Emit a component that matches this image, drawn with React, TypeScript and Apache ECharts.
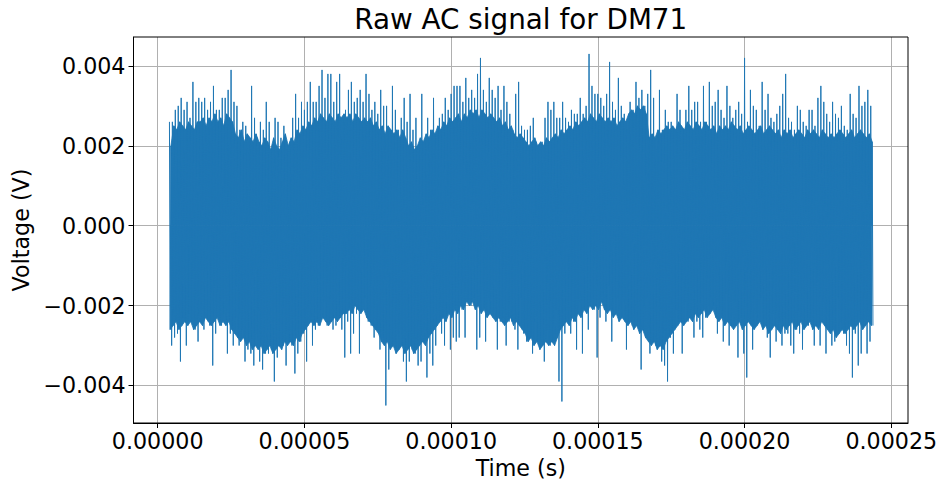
import React, { useEffect, useRef } from "react";
import * as echarts from "echarts";

const TITLE = "Raw AC signal for DM71";
const X_LABEL = "Time (s)";
const Y_LABEL = "Voltage (V)";
const X_TICKS = [0, 0.00005, 0.0001, 0.00015, 0.0002, 0.00025];
const Y_TICKS = [-0.004, -0.002, 0, 0.002, 0.004];
const X_MIN = -0.00000825;
const X_MAX = 0.0002557;
const Y_MIN = -0.004939;
const Y_MAX = 0.004724;

// Signal, one window per microsecond starting at 4 µs.
// Each window holds: the highest peak, a secondary low, a secondary high, the lowest peak.
const SAMPLE_START = 0.000004; // s
const SAMPLE_STEP = 0.000001; // s
const PEAK_HIGH = [
  0.0026, 0.0026, 0.0029, 0.0030, 0.0032, 0.0029, 0.0031, 0.0027, 0.0036, 0.0031,
  0.0032, 0.0031, 0.0032, 0.0029, 0.0031, 0.0035, 0.0029, 0.0029, 0.0032, 0.0032,
  0.0034, 0.0039, 0.0031, 0.0030, 0.0024, 0.0026, 0.0025, 0.0021, 0.0035, 0.0027,
  0.0022, 0.0026, 0.0024, 0.0031, 0.0026, 0.0019, 0.0027, 0.0026, 0.0022, 0.0025,
  0.0019, 0.0021, 0.0027, 0.0033, 0.0027, 0.0031, 0.0029, 0.0031, 0.0036, 0.0031,
  0.0031, 0.0035, 0.0039, 0.0032, 0.0038, 0.0038, 0.0031, 0.0036, 0.0038, 0.0027,
  0.0029, 0.0034, 0.0036, 0.0031, 0.0032, 0.0034, 0.0031, 0.0038, 0.0033, 0.0029,
  0.0031, 0.0028, 0.0034, 0.0030, 0.0030, 0.0024, 0.0035, 0.0029, 0.0024, 0.0027,
  0.0032, 0.0026, 0.0033, 0.0024, 0.0027, 0.0019, 0.0033, 0.0021, 0.0027, 0.0024,
  0.0032, 0.0023, 0.0027, 0.0028, 0.0032, 0.0029, 0.0033, 0.0035, 0.0035, 0.0035,
  0.0031, 0.0037, 0.0032, 0.0034, 0.0032, 0.0038, 0.0042, 0.0034, 0.0031, 0.0037,
  0.0034, 0.0032, 0.0035, 0.0029, 0.0035, 0.0031, 0.0028, 0.0024, 0.0033, 0.0036,
  0.0025, 0.0024, 0.0024, 0.0025, 0.0027, 0.0021, 0.0020, 0.0021, 0.0027, 0.0031,
  0.0029, 0.0031, 0.0027, 0.0027, 0.0031, 0.0027, 0.0026, 0.0029, 0.0028, 0.0028,
  0.0032, 0.0028, 0.0030, 0.0043, 0.0035, 0.0033, 0.0033, 0.0032, 0.0030, 0.0033,
  0.0041, 0.0031, 0.0029, 0.0037, 0.0030, 0.0028, 0.0024, 0.0031, 0.0029, 0.0036,
  0.0032, 0.0034, 0.0030, 0.0033, 0.0039, 0.0032, 0.0019, 0.0034, 0.0024, 0.0029,
  0.0026, 0.0026, 0.0024, 0.0033, 0.0029, 0.0024, 0.0029, 0.0035, 0.0029, 0.0031,
  0.0031, 0.0026, 0.0035, 0.0026, 0.0036, 0.0030, 0.0031, 0.0034, 0.0029, 0.0027,
  0.0035, 0.0030, 0.0027, 0.0029, 0.0031, 0.0028, 0.0042, 0.0026, 0.0034, 0.0030,
  0.0029, 0.0025, 0.0036, 0.0029, 0.0033, 0.0027, 0.0026, 0.0028, 0.0030, 0.0033,
  0.0038, 0.0027, 0.0026, 0.0024, 0.0030, 0.0029, 0.0026, 0.0025, 0.0029, 0.0029,
  0.0025, 0.0032, 0.0035, 0.0031, 0.0028, 0.0026, 0.0031, 0.0028, 0.0027, 0.0030,
  0.0025, 0.0024, 0.0033, 0.0028, 0.0027, 0.0035, 0.0030, 0.0031, 0.0034, 0.0030,
];
const SECOND_HIGH = [
  0.0020, 0.0025, 0.0024, 0.0026, 0.0025, 0.0024, 0.0026, 0.0025, 0.0024, 0.0026,
  0.0026, 0.0027, 0.0025, 0.0027, 0.0026, 0.0028, 0.0026, 0.0027, 0.0025, 0.0028,
  0.0027, 0.0026, 0.0023, 0.0022, 0.0024, 0.0021, 0.0023, 0.0022, 0.0021, 0.0023,
  0.0021, 0.0020, 0.0022, 0.0021, 0.0019, 0.0022, 0.0020, 0.0019, 0.0021, 0.0023,
  0.0020, 0.0022, 0.0021, 0.0024, 0.0023, 0.0025, 0.0024, 0.0026, 0.0025, 0.0027,
  0.0026, 0.0028, 0.0027, 0.0026, 0.0028, 0.0027, 0.0026, 0.0028, 0.0027, 0.0028,
  0.0027, 0.0028, 0.0026, 0.0028, 0.0027, 0.0026, 0.0027, 0.0026, 0.0027, 0.0025,
  0.0026, 0.0024, 0.0025, 0.0023, 0.0025, 0.0024, 0.0023, 0.0024, 0.0022, 0.0024,
  0.0022, 0.0020, 0.0021, 0.0019, 0.0020, 0.0022, 0.0021, 0.0023, 0.0022, 0.0024,
  0.0023, 0.0025, 0.0024, 0.0026, 0.0025, 0.0027, 0.0026, 0.0027, 0.0028, 0.0026,
  0.0028, 0.0027, 0.0029, 0.0028, 0.0029, 0.0027, 0.0029, 0.0028, 0.0027, 0.0028,
  0.0027, 0.0026, 0.0027, 0.0025, 0.0026, 0.0024, 0.0025, 0.0023, 0.0022, 0.0023,
  0.0022, 0.0021, 0.0020, 0.0021, 0.0022, 0.0020, 0.0021, 0.0020, 0.0022, 0.0021,
  0.0022, 0.0023, 0.0022, 0.0024, 0.0023, 0.0024, 0.0025, 0.0024, 0.0026, 0.0025,
  0.0026, 0.0027, 0.0026, 0.0028, 0.0027, 0.0026, 0.0028, 0.0027, 0.0026, 0.0027,
  0.0026, 0.0027, 0.0025, 0.0026, 0.0027, 0.0026, 0.0028, 0.0029, 0.0028, 0.0030,
  0.0029, 0.0030, 0.0028, 0.0022, 0.0023, 0.0022, 0.0024, 0.0023, 0.0024, 0.0025,
  0.0024, 0.0025, 0.0024, 0.0026, 0.0025, 0.0024, 0.0026, 0.0025, 0.0024, 0.0026,
  0.0025, 0.0024, 0.0026, 0.0025, 0.0024, 0.0025, 0.0023, 0.0025, 0.0024, 0.0025,
  0.0024, 0.0026, 0.0025, 0.0024, 0.0025, 0.0023, 0.0024, 0.0025, 0.0024, 0.0023,
  0.0024, 0.0025, 0.0023, 0.0024, 0.0025, 0.0024, 0.0023, 0.0024, 0.0022, 0.0024,
  0.0023, 0.0024, 0.0022, 0.0023, 0.0024, 0.0023, 0.0022, 0.0024, 0.0023, 0.0024,
  0.0023, 0.0022, 0.0024, 0.0023, 0.0022, 0.0023, 0.0022, 0.0023, 0.0024, 0.0023,
  0.0022, 0.0023, 0.0024, 0.0022, 0.0023, 0.0024, 0.0023, 0.0022, 0.0023, 0.0021,
];
const SECOND_LOW = [
  -0.0026, -0.0025, -0.0024, -0.0026, -0.0025, -0.0024, -0.0025, -0.0024, -0.0026, -0.0025,
  -0.0024, -0.0025, -0.0023, -0.0024, -0.0025, -0.0024, -0.0023, -0.0025, -0.0024, -0.0025,
  -0.0024, -0.0026, -0.0027, -0.0028, -0.0029, -0.0028, -0.0030, -0.0029, -0.0031, -0.0030,
  -0.0031, -0.0030, -0.0032, -0.0031, -0.0030, -0.0032, -0.0031, -0.0030, -0.0031, -0.0029,
  -0.0030, -0.0029, -0.0030, -0.0028, -0.0029, -0.0027, -0.0026, -0.0025, -0.0024, -0.0025,
  -0.0024, -0.0025, -0.0023, -0.0024, -0.0025, -0.0024, -0.0023, -0.0024, -0.0023, -0.0022,
  -0.0022, -0.0021, -0.0022, -0.0020, -0.0021, -0.0022, -0.0021, -0.0023, -0.0024, -0.0025,
  -0.0026, -0.0027, -0.0029, -0.0030, -0.0029, -0.0031, -0.0030, -0.0032, -0.0031, -0.0030,
  -0.0032, -0.0031, -0.0030, -0.0032, -0.0031, -0.0030, -0.0029, -0.0030, -0.0028, -0.0027,
  -0.0026, -0.0025, -0.0024, -0.0023, -0.0024, -0.0022, -0.0023, -0.0021, -0.0022, -0.0020,
  -0.0021, -0.0019, -0.0020, -0.0019, -0.0021, -0.0020, -0.0022, -0.0021, -0.0023, -0.0022,
  -0.0023, -0.0024, -0.0023, -0.0024, -0.0025, -0.0024, -0.0023, -0.0025, -0.0024, -0.0025,
  -0.0026, -0.0027, -0.0029, -0.0028, -0.0030, -0.0029, -0.0031, -0.0030, -0.0029, -0.0030,
  -0.0029, -0.0030, -0.0028, -0.0026, -0.0025, -0.0024, -0.0025, -0.0023, -0.0024, -0.0022,
  -0.0023, -0.0021, -0.0022, -0.0020, -0.0021, -0.0020, -0.0021, -0.0019, -0.0021, -0.0022,
  -0.0021, -0.0023, -0.0022, -0.0024, -0.0023, -0.0024, -0.0025, -0.0024, -0.0026, -0.0025,
  -0.0027, -0.0026, -0.0028, -0.0029, -0.0030, -0.0029, -0.0031, -0.0030, -0.0031, -0.0029,
  -0.0028, -0.0027, -0.0026, -0.0025, -0.0024, -0.0025, -0.0024, -0.0023, -0.0024, -0.0022,
  -0.0023, -0.0022, -0.0021, -0.0023, -0.0022, -0.0021, -0.0023, -0.0024, -0.0023, -0.0025,
  -0.0024, -0.0025, -0.0026, -0.0025, -0.0024, -0.0026, -0.0025, -0.0024, -0.0025, -0.0026,
  -0.0025, -0.0024, -0.0026, -0.0025, -0.0027, -0.0026, -0.0025, -0.0026, -0.0027, -0.0025,
  -0.0026, -0.0025, -0.0024, -0.0026, -0.0025, -0.0024, -0.0026, -0.0025, -0.0024, -0.0026,
  -0.0025, -0.0026, -0.0024, -0.0025, -0.0026, -0.0027, -0.0026, -0.0028, -0.0027, -0.0026,
  -0.0027, -0.0026, -0.0025, -0.0026, -0.0025, -0.0024, -0.0026, -0.0025, -0.0024, -0.0025,
];
const PEAK_LOW = [
  -0.0030, -0.0028, -0.0027, -0.0034, -0.0023, -0.0030, -0.0022, -0.0024, -0.0026, -0.0029,
  -0.0021, -0.0026, -0.0023, -0.0025, -0.0035, -0.0027, -0.0023, -0.0025, -0.0022, -0.0032,
  -0.0027, -0.0030, -0.0023, -0.0030, -0.0026, -0.0034, -0.0031, -0.0032, -0.0035, -0.0027,
  -0.0034, -0.0036, -0.0032, -0.0032, -0.0031, -0.0039, -0.0033, -0.0029, -0.0030, -0.0035,
  -0.0029, -0.0030, -0.0037, -0.0032, -0.0029, -0.0027, -0.0034, -0.0024, -0.0030, -0.0026,
  -0.0025, -0.0021, -0.0019, -0.0025, -0.0023, -0.0026, -0.0025, -0.0023, -0.0026, -0.0033,
  -0.0024, -0.0032, -0.0027, -0.0022, -0.0032, -0.0021, -0.0018, -0.0024, -0.0025, -0.0028,
  -0.0025, -0.0031, -0.0028, -0.0045, -0.0036, -0.0030, -0.0029, -0.0027, -0.0026, -0.0034,
  -0.0039, -0.0034, -0.0031, -0.0032, -0.0035, -0.0034, -0.0026, -0.0038, -0.0032, -0.0035,
  -0.0030, -0.0024, -0.0027, -0.0030, -0.0022, -0.0031, -0.0028, -0.0029, -0.0028, -0.0021,
  -0.0028, -0.0018, -0.0020, -0.0018, -0.0031, -0.0028, -0.0016, -0.0029, -0.0018, -0.0021,
  -0.0021, -0.0031, -0.0024, -0.0023, -0.0030, -0.0024, -0.0024, -0.0026, -0.0031, -0.0018,
  -0.0027, -0.0029, -0.0028, -0.0032, -0.0024, -0.0029, -0.0029, -0.0034, -0.0026, -0.0030,
  -0.0029, -0.0021, -0.0039, -0.0044, -0.0027, -0.0023, -0.0027, -0.0024, -0.0031, -0.0019,
  -0.0032, -0.0021, -0.0026, -0.0019, -0.0021, -0.0033, -0.0023, -0.0017, -0.0024, -0.0015,
  -0.0029, -0.0018, -0.0018, -0.0021, -0.0019, -0.0031, -0.0024, -0.0025, -0.0024, -0.0024,
  -0.0036, -0.0020, -0.0018, -0.0032, -0.0029, -0.0030, -0.0030, -0.0034, -0.0035, -0.0039,
  -0.0028, -0.0032, -0.0021, -0.0024, -0.0032, -0.0019, -0.0024, -0.0021, -0.0028, -0.0024,
  -0.0026, -0.0028, -0.0023, -0.0020, -0.0021, -0.0020, -0.0027, -0.0021, -0.0029, -0.0017,
  -0.0030, -0.0016, -0.0019, -0.0033, -0.0023, -0.0032, -0.0038, -0.0024, -0.0031, -0.0022,
  -0.0023, -0.0018, -0.0025, -0.0028, -0.0033, -0.0022, -0.0029, -0.0024, -0.0030, -0.0027,
  -0.0027, -0.0030, -0.0032, -0.0026, -0.0027, -0.0031, -0.0024, -0.0025, -0.0024, -0.0030,
  -0.0025, -0.0030, -0.0019, -0.0032, -0.0026, -0.0030, -0.0029, -0.0018, -0.0024, -0.0027,
  -0.0030, -0.0032, -0.0038, -0.0027, -0.0035, -0.0032, -0.0024, -0.0032, -0.0029, -0.0025,
];

const BLUE = "#1f77b4";
const FONT = "DejaVu Sans";

const GRID = { left: 133.5, top: 37, right: 33, bottom: 61 };
const W = 941;
const H = 484;

function fmtY(v: number): string {
  const s = Math.abs(v) < 1e-12 ? "0.000" : v.toFixed(3);
  return s.replace("-", "\u2212");
}

export default function App() {
  const ref = useRef<HTMLDivElement>(null);

  useEffect(() => {
    if (!ref.current) return;
    const chart = echarts.init(ref.current, undefined, { renderer: "svg" });

    // Order within each window: peak high, secondary low, secondary high, peak low.
    const signal: [number, number][] = [];
    const denseHigh: [number, number][] = [];
    const denseLow: [number, number][] = [];
    for (let i = 0; i < PEAK_HIGH.length; i++) {
      const t = SAMPLE_START + i * SAMPLE_STEP;
      signal.push([t, PEAK_HIGH[i]]);
      signal.push([t + 0.25 * SAMPLE_STEP, SECOND_LOW[i]]);
      signal.push([t + 0.5 * SAMPLE_STEP, SECOND_HIGH[i]]);
      signal.push([t + 0.75 * SAMPLE_STEP, PEAK_LOW[i]]);
      // the secondary extremes bound the densely painted body of the trace
      denseLow.push([t + 0.25 * SAMPLE_STEP, SECOND_LOW[i]]);
      denseHigh.push([t + 0.5 * SAMPLE_STEP, SECOND_HIGH[i]]);
    }

    const gw = W - GRID.left - GRID.right;
    const gh = H - GRID.top - GRID.bottom;

    const tickStyle = { color: "#000", width: 1 };
    const labelStyle = { fontFamily: FONT, fontSize: 22.2, color: "#000" };

    const bodySeries = (data: [number, number][]) => ({
      type: "line",
      data,
      showSymbol: false,
      silent: true,
      z: 2,
      itemStyle: { color: BLUE },
      lineStyle: { width: 0.8, color: BLUE },
      areaStyle: { color: BLUE, opacity: 1 },
    });

    chart.setOption({
      animation: false,
      backgroundColor: "#fff",
      grid: { ...GRID, containLabel: false },
      xAxis: {
        type: "value",
        min: X_MIN,
        max: X_MAX,
        axisLine: { show: true, onZero: false, lineStyle: tickStyle },
        axisTick: { show: true, length: 5, lineStyle: tickStyle, customValues: X_TICKS },
        axisLabel: {
          ...labelStyle,
          margin: 7,
          customValues: X_TICKS,
          formatter: (v: number) => v.toFixed(5),
        },
        splitLine: { show: true, lineStyle: { color: "#b0b0b0", width: 1 } },
        name: X_LABEL,
        nameLocation: "middle",
        nameGap: 30,
        nameTextStyle: { ...labelStyle },
      },
      yAxis: {
        type: "value",
        min: Y_MIN,
        max: Y_MAX,
        axisLine: { show: true, onZero: false, lineStyle: tickStyle },
        axisTick: { show: true, length: 5, lineStyle: tickStyle, customValues: Y_TICKS },
        axisLabel: {
          ...labelStyle,
          margin: 8,
          customValues: Y_TICKS,
          formatter: (v: number) => fmtY(v),
        },
        splitLine: { show: true, lineStyle: { color: "#b0b0b0", width: 1 } },
        name: Y_LABEL,
        nameLocation: "middle",
        nameGap: 98,
        nameTextStyle: { ...labelStyle },
      },
      graphic: [
        {
          type: "text",
          x: GRID.left + gw / 2,
          y: 19,
          style: {
            text: TITLE,
            fontFamily: FONT,
            fontSize: 27.8,
            fill: "#000",
            align: "center",
            verticalAlign: "middle",
          },
        },
        {
          type: "rect",
          z: 100,
          silent: true,
          shape: { x: GRID.left, y: GRID.top, width: gw, height: gh },
          style: { fill: "none", stroke: "#000", lineWidth: 1 },
        },
      ],
      series: [
        bodySeries(denseHigh),
        bodySeries(denseLow),
        {
          type: "line",
          data: signal,
          showSymbol: false,
          silent: true,
          z: 3,
          itemStyle: { color: BLUE },
          lineStyle: { width: 1, color: BLUE },
        },
      ],
    });

    return () => chart.dispose();
  }, []);

  return (
    <div
      ref={ref}
      style={{ position: "fixed", left: 0, top: 0, width: W, height: H, background: "#fff" }}
    />
  );
}
